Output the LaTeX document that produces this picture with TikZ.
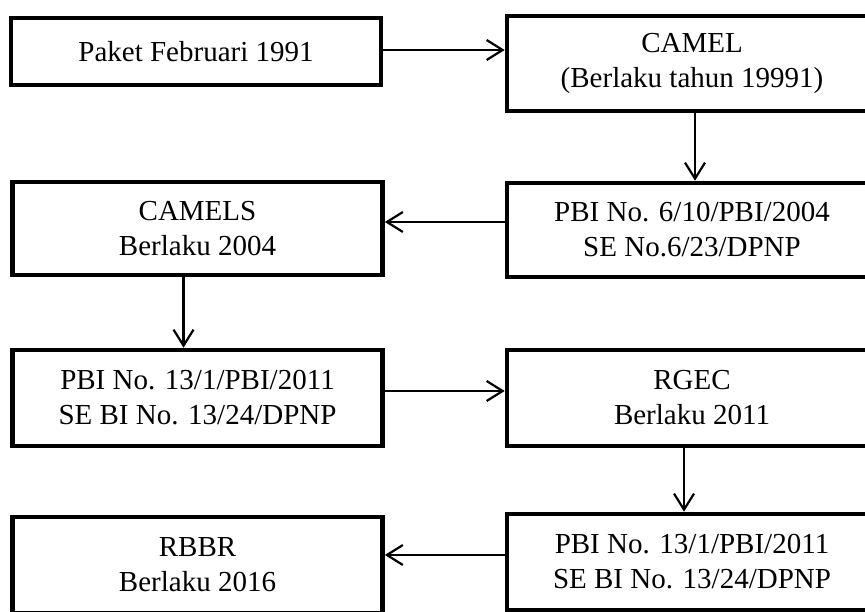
\documentclass[tikz,border=0pt]{standalone}
\usepackage{fontspec}
\setmainfont{Liberation Serif}
\usetikzlibrary{arrows.meta}

\begin{document}
\begin{tikzpicture}[x=1pt, y=-1pt, font=\fontsize{29}{35}\selectfont,
    box/.style={draw, line width=4.6pt, minimum width=370pt, minimum height=94pt,
      inner sep=0pt, align=center},
    arr/.style={-{Straight Barb[length=16pt, width=20pt, line width=2.2pt]}, line width=2.2pt}]
    \clip (0,0) rectangle (865,612);
    \node[box, minimum height=67pt] (paket) at (196,51.5) {Paket Februari 1991};
    \node[box, minimum height=95pt] (camel) at (692,63.5) {CAMEL\\(Berlaku tahun 19991)};
    \node[box] (pbiA) at (692,230) {PBI No. 6/10/PBI/2004\\SE No.6/23/DPNP};
    \node[box, minimum height=93pt] (camels) at (197.5,228.5) {CAMELS\\Berlaku 2004};
    \node[box, minimum height=96pt] (pbiB) at (197.5,398) {PBI No. 13/1/PBI/2011\\SE BI No. 13/24/DPNP};
    \node[box, minimum height=96pt] (rgec) at (692,398) {RGEC\\Berlaku 2011};
    \node[box, minimum height=96pt] (pbiC) at (692,562) {PBI No. 13/1/PBI/2011\\SE BI No. 13/24/DPNP};
    \node[box, minimum height=96pt] (rbbr) at (197.5,565) {RBBR\\Berlaku 2016};
    \draw[arr] ([yshift=1.5pt]paket.east) -- ([yshift=1.5pt]camel.west |- paket.east);
    \draw[arr] ([xshift=3pt]camel.south) -- ([xshift=3pt]pbiA.north);
    \draw[arr] ([yshift=8pt]pbiA.west) -- ([yshift=8pt]camels.east |- pbiA.west);
    \draw[arr] ([xshift=-14pt]camels.south) -- ([xshift=-14pt]pbiB.north);
    \draw[arr] ([yshift=7pt]pbiB.east) -- ([yshift=7pt]rgec.west |- pbiB.east);
    \draw[arr] ([xshift=-8pt]rgec.south) -- ([xshift=-8pt]pbiC.north);
    \draw[arr] ([xshift=4pt, yshift=7pt]pbiC.west) -- ([yshift=7pt]rbbr.east |- pbiC.west);
  \end{tikzpicture}
\end{document}
